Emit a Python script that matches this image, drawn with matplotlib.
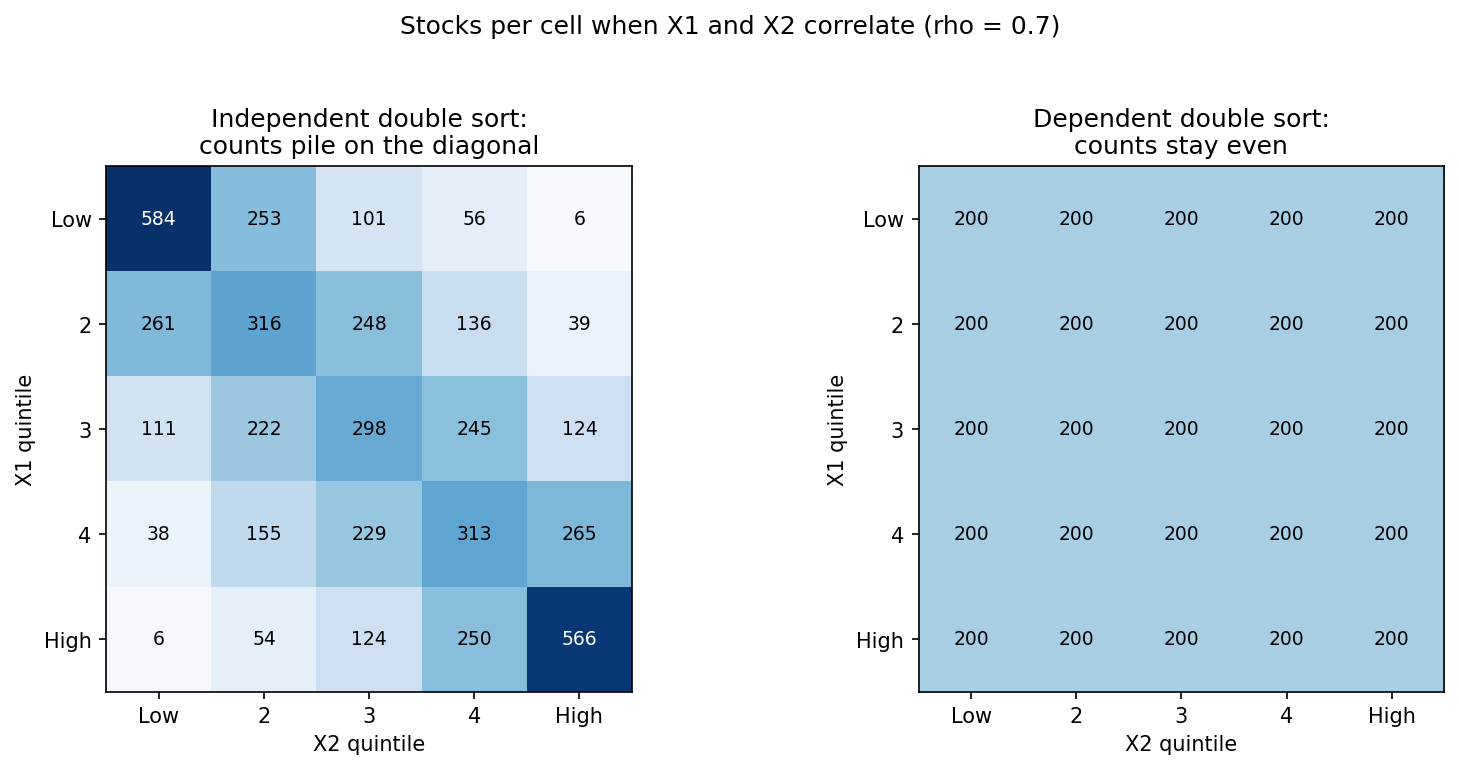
import numpy as np
import matplotlib.pyplot as plt

quintiles = ["Low", "2", "3", "4", "High"]

indep_counts = np.array([
    [584, 253, 101, 56, 6],
    [261, 316, 248, 136, 39],
    [111, 222, 298, 245, 124],
    [38, 155, 229, 313, 265],
    [6, 54, 124, 250, 566],
])
dep_counts = np.array([
    [200, 200, 200, 200, 200],
    [200, 200, 200, 200, 200],
    [200, 200, 200, 200, 200],
    [200, 200, 200, 200, 200],
    [200, 200, 200, 200, 200],
])

titles = ["Independent double sort:\ncounts pile on the diagonal",
          "Dependent double sort:\ncounts stay even"]

fig, axes = plt.subplots(1, 2, figsize=(9.73, 5.13), dpi=150)
vmax = indep_counts.max()

for ax, counts, title in zip(axes, [indep_counts, dep_counts], titles):
    ax.imshow(counts, cmap="Blues", vmin=0, vmax=vmax)
    for i in range(5):
        for j in range(5):
            v = counts[i, j]
            ax.text(j, i, str(v), ha="center", va="center", fontsize=9,
                    color="white" if v > 0.6 * vmax else "black")
    ax.set_xticks(range(5))
    ax.set_xticklabels(quintiles)
    ax.set_yticks(range(5))
    ax.set_yticklabels(quintiles)
    ax.set_xlabel("X2 quintile")
    ax.set_ylabel("X1 quintile")
    ax.set_title(title)

fig.suptitle("Stocks per cell when X1 and X2 correlate (rho = 0.7)")
fig.subplots_adjust(left=0.0727, right=0.9897, top=0.7831, bottom=0.1, wspace=0.544)
fig.savefig("out.png", dpi=150)
